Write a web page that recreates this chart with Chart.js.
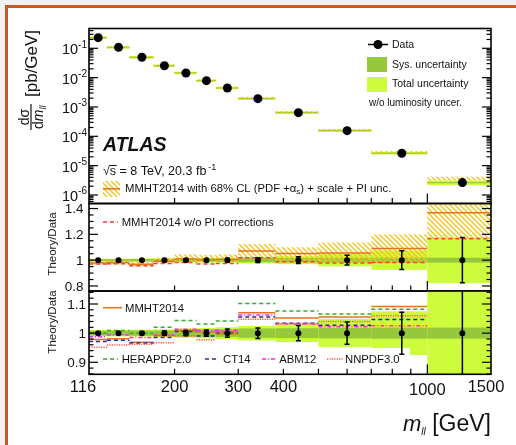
<!DOCTYPE html>
<html>
<head>
<meta charset="utf-8">
<script src="https://cdn.jsdelivr.net/npm/chart.js@4.4.1/dist/chart.umd.min.js"></script>
<style>
  html, body { margin: 0; padding: 0; width: 516px; height: 445px; overflow: hidden; background: #f2f2f2; }
  #frame { position: absolute; left: 5px; top: 5px; width: 560px; height: 500px; border: 3px solid #c65a28; background: #fff; }
  canvas { position: absolute; left: 0; top: 0; }
</style>
</head>
<body>
<div id="frame"></div>
<canvas id="topPanel" width="516" height="445"></canvas>
<canvas id="midPanel" width="516" height="445"></canvas>
<canvas id="botPanel" width="516" height="445"></canvas>
<script>
const FONT = "'Liberation Sans', Arial, Helvetica, sans-serif";

// mass bins [GeV]
const BIN_EDGES = [116, 130, 150, 175, 200, 230, 260, 300, 380, 500, 700, 1000, 1500];
const BIN_CENTERS = [123, 140, 162.5, 187.5, 215, 245, 280, 340, 440, 600, 850, 1250];

// measured dsigma/dm [pb/GeV] and relative uncertainties
const DSIGMA = [0.23, 0.108, 0.0493, 0.0255, 0.0144, 0.00787, 0.00444, 0.00192, 0.00064, 0.000156, 0.0000265, 0.00000264];
const STAT_UNC = [0.003, 0.004, 0.005, 0.007, 0.009, 0.011, 0.014, 0.018, 0.026, 0.038, 0.072, 0.175];
const SYS_UNC = [0.008, 0.008, 0.009, 0.009, 0.011, 0.012, 0.013, 0.016, 0.017, 0.018, 0.019, 0.019];
const TOTAL_UNC = [0.011, 0.011, 0.012, 0.013, 0.016, 0.018, 0.02, 0.025, 0.031, 0.048, 0.075, 0.178];
const DATA_RATIO = [1, 1, 1, 1, 1, 1, 1, 1, 1, 1, 1, 1];

// theory / data
const MMHT = [0.978, 0.981, 0.969, 0.991, 1.009, 1.004, 1.005, 1.07, 1.052, 1.055, 1.091, 1.368];
const MMHT_LO = [0.965, 0.966, 0.95, 0.975, 0.985, 0.98, 0.985, 1.015, 0.99, 0.985, 0.982, 1.165];
const MMHT_HI = [0.998, 0.998, 0.99, 1.02, 1.046, 1.04, 1.045, 1.124, 1.1, 1.137, 1.2, 1.6];
const MMHT_NO_PI = [0.97, 0.972, 0.956, 0.975, 0.982, 0.97, 0.975, 1.018, 0.988, 0.977, 0.982, 1.165];
const HERAPDF = [1.0, 1.009, 1.0, 1.02, 1.043, 1.031, 1.042, 1.102, 1.076, 1.066, 1.082, 1.42];
const CT14 = [0.971, 0.976, 0.966, 0.985, 1.006, 0.99, 1.0, 1.055, 1.034, 1.027, 1.047, 1.35];
const ABM12 = [0.988, 0.994, 0.985, 0.994, 1.013, 1.01, 1.01, 1.062, 1.031, 1.022, 1.025, 1.3];
const NNPDF = [0.952, 0.959, 0.962, 0.967, 0.99, 0.977, 0.998, 1.048, 1.033, 1.04, 1.06, 1.35];

const X_TICKS = [200, 300, 400, 500, 600, 700, 800, 900, 1000];
const X_LABELS = [116, 200, 300, 400, 1000, 1500];
const TOP_EXPONENTS = [-1, -2, -3, -4, -5, -6];
const MID_TICKS = [0.8, 1, 1.2, 1.4];
const BOT_TICKS = [0.9, 1, 1.1];

const LIME = '#cdfc3c', GREEN = '#96c83c', ORANGE = '#e2761c';
const RED = '#ff3b3b', HERA_GREEN = '#33aa33', CT_BLUE = '#2b2baa', ABM_PINK = '#ff22ff', NNPDF_RED = '#ff5050';

function makeHatch() {
    const c = document.createElement('canvas');
    c.width = c.height = 5;
    const g = c.getContext('2d');
    g.strokeStyle = '#f8c21c';
    g.lineWidth = 1.4;
    g.beginPath();
    g.moveTo(-1, -1); g.lineTo(6, 6);
    g.moveTo(-1, 4); g.lineTo(1, 6);
    g.moveTo(4, -1); g.lineTo(6, 1);
    g.stroke();
    return g.createPattern(c, 'repeat');
}
const HATCH = makeHatch();

function steps(vals) {
    const pts = [];
    vals.forEach((v, i) => {
        pts.push({x: BIN_EDGES[i], y: v}, {x: BIN_EDGES[i + 1], y: v}, {x: BIN_EDGES[i + 1], y: null});
    });
    return pts;
}

function stepLine(vals, color, dash) {
    return {data: steps(vals), borderColor: color, borderWidth: 1.5, borderDash: dash, pointRadius: 0,
            fill: false, tension: 0, spanGaps: false, order: 1};
}

function dataPoints(ys, r) {
    return {data: BIN_CENTERS.map((x, i) => ({x, y: ys[i]})), showLine: false, pointRadius: r,
            pointBackgroundColor: '#000', pointBorderColor: '#000', pointBorderWidth: 0, order: 0};
}

function binBox(chart, i, lo, hi, fill, minH) {
    const {x, y} = chart.scales;
    const x0 = x.getPixelForValue(BIN_EDGES[i]);
    const x1 = x.getPixelForValue(BIN_EDGES[i + 1]);
    let y0 = y.getPixelForValue(hi), y1 = y.getPixelForValue(lo);
    if (minH && y1 - y0 < minH) {
        const c = (y0 + y1) / 2;
        y0 = c - minH / 2; y1 = c + minH / 2;
    }
    chart.ctx.fillStyle = fill;
    chart.ctx.fillRect(x0, y0, x1 - x0, y1 - y0);
}

function clipArea(chart, fn) {
    const ctx = chart.ctx, a = chart.chartArea;
    ctx.save();
    ctx.beginPath();
    ctx.rect(a.left, a.top, a.right - a.left, a.bottom - a.top);
    ctx.clip();
    fn(ctx);
    ctx.restore();
}

function line(ctx, x0, y0, x1, y1, color, w, dash) {
    ctx.save();
    ctx.strokeStyle = color;
    ctx.lineWidth = w;
    ctx.setLineDash(dash || []);
    ctx.beginPath();
    ctx.moveTo(x0, y0); ctx.lineTo(x1, y1);
    ctx.stroke();
    ctx.restore();
}

function text(ctx, s, x, y, size, opts = {}) {
    ctx.font = ((opts.style || '') + ' ' + size + 'px ' + FONT).trim();
    ctx.textAlign = opts.align || 'left';
    ctx.textBaseline = opts.base || 'alphabetic';
    ctx.fillStyle = opts.color || '#111';
    ctx.fillText(s, x, y);
    return ctx.measureText(s).width;
}

function frame(chart) {
    const ctx = chart.ctx, a = chart.chartArea;
    ctx.save();
    ctx.strokeStyle = '#000';
    ctx.lineWidth = 1.6;
    ctx.strokeRect(a.left, a.top, a.right - a.left, a.bottom - a.top);
    ctx.restore();
}

function xTicks(chart) {
    const ctx = chart.ctx, x = chart.scales.x, a = chart.chartArea;
    X_TICKS.forEach(v => {
        const px = x.getPixelForValue(v);
        line(ctx, px, a.bottom, px, a.bottom - (v === 1000 ? 10 : 5.5), '#000', 1.2);
    });
}

function yLinTicks(chart, major, step) {
    const ctx = chart.ctx, y = chart.scales.y, a = chart.chartArea;
    for (let v = Math.ceil(y.min / step) * step; v <= y.max; v += step) {
        const py = y.getPixelForValue(v);
        const isMajor = major.some(m => Math.abs(m - v) < 1e-6);
        const len = isMajor ? 9 : 4.5;
        line(ctx, a.left, py, a.left + len, py, '#000', 1.2);
        line(ctx, a.right, py, a.right - len, py, '#000', 1.2);
    }
}

function theoryData(ctx, cy) {
    ctx.save();
    ctx.translate(56, cy);
    ctx.rotate(-Math.PI / 2);
    text(ctx, 'Theory/Data', 0, 0, 11.5, {align: 'center', color: '#222'});
    ctx.restore();
}

function errorBars(chart) {
    const ctx = chart.ctx, {x, y} = chart.scales;
    clipArea(chart, () => {
        BIN_CENTERS.forEach((c, i) => {
            const px = x.getPixelForValue(c);
            const y0 = y.getPixelForValue(DATA_RATIO[i] + STAT_UNC[i]);
            const y1 = y.getPixelForValue(DATA_RATIO[i] - STAT_UNC[i]);
            line(ctx, px, y0, px, y1, '#000', 1.5);
            line(ctx, px - 2.5, y0, px + 2.5, y0, '#000', 1.5);
            line(ctx, px - 2.5, y1, px + 2.5, y1, '#000', 1.5);
        });
    });
}

const topPlugin = {
    id: 'topPanel',
    beforeDatasetsDraw(chart) {
        clipArea(chart, () => {
            DSIGMA.forEach((d, i) => {
                binBox(chart, i, d * (1 - TOTAL_UNC[i]), d * (1 + TOTAL_UNC[i]), LIME, 2.5);
                binBox(chart, i, d * (1 - SYS_UNC[i]), d * (1 + SYS_UNC[i]), GREEN, 1.2);
                binBox(chart, i, d * MMHT_LO[i], d * MMHT_HI[i], HATCH, 2);
            });
        });
    },
    afterDraw(chart) {
        const ctx = chart.ctx, y = chart.scales.y, a = chart.chartArea;
        frame(chart);
        xTicks(chart);
        // log ticks
        for (let e = -7; e <= 0; e++) {
            for (let m = 1; m <= 9; m++) {
                const v = m * Math.pow(10, e);
                if (v < y.min || v > y.max) continue;
                const py = y.getPixelForValue(v);
                const len = m === 1 ? 9 : 4.5;
                line(ctx, a.left, py, a.left + len, py, '#000', 1.2);
                line(ctx, a.right, py, a.right - len, py, '#000', 1.2);
            }
        }
        TOP_EXPONENTS.forEach(e => {
            const py = y.getPixelForValue(Math.pow(10, e));
            ctx.font = '10px ' + FONT;
            const ew = ctx.measureText(String(e)).width;
            text(ctx, '10', 87 - ew, py + 6, 14.5, {align: 'right'});
            text(ctx, String(e), 87 - ew, py - 0.5, 10);
        });
        // y title
        ctx.save();
        ctx.translate(31, 117);
        ctx.rotate(-Math.PI / 2);
        text(ctx, 'dσ', 0, -2.5, 14, {align: 'center'});
        line(ctx, -13, 0, 13, 0, '#111', 1.2);
        let w = text(ctx, 'd', -12, 12, 14);
        w += text(ctx, 'm', -12 + w, 12, 14, {style: 'italic'});
        text(ctx, 'll', -12 + w, 15, 9.5, {style: 'italic'});
        text(ctx, '[pb/GeV]', 20, 6, 17);
        ctx.restore();
        // labels
        text(ctx, 'ATLAS', 103, 150.7, 19.5, {style: 'italic bold'});
        const w1 = text(ctx, '√', 103, 175, 12.5);
        const w2 = ctx.measureText('s').width;
        line(ctx, 103 + w1 - 0.5, 165.5, 103 + w1 + w2 + 0.5, 165.5, '#111', 1);
        const ws = text(ctx, 's = 8 TeV, 20.3 fb', 103 + w1, 175, 12.5);
        text(ctx, '-1', 103 + w1 + ws + 2, 169.5, 9);
        ctx.fillStyle = HATCH;
        ctx.fillRect(103, 181, 17, 16);
        line(ctx, 103, 188.8, 120, 188.8, ORANGE, 1.5);
        let tx = 125;
        tx += text(ctx, 'MMHT2014 with 68% CL (PDF +α', tx, 191.7, 11.3);
        tx += text(ctx, 's', tx, 194, 8);
        text(ctx, ') + scale + PI unc.', tx, 191.7, 11.3);
        // legend
        line(ctx, 368, 44.5, 388, 44.5, '#000', 1.5);
        ctx.fillStyle = '#000';
        ctx.beginPath(); ctx.arc(378, 44.5, 4.5, 0, 2 * Math.PI); ctx.fill();
        text(ctx, 'Data', 392, 48.3, 10.5);
        ctx.fillStyle = GREEN; ctx.fillRect(367, 57, 20, 15);
        text(ctx, 'Sys. uncertainty', 392, 68.3, 10.5);
        ctx.fillStyle = LIME; ctx.fillRect(367, 77, 20, 15);
        text(ctx, 'Total uncertainty', 392, 87.3, 10.5);
        text(ctx, 'w/o luminosity uncer.', 369, 106, 10);
    }
};

const midPlugin = {
    id: 'midPanel',
    beforeDatasetsDraw(chart) {
        clipArea(chart, () => {
            DATA_RATIO.forEach((r, i) => {
                binBox(chart, i, r - TOTAL_UNC[i], r + TOTAL_UNC[i], LIME);
                binBox(chart, i, r - SYS_UNC[i], r + SYS_UNC[i], GREEN);
                binBox(chart, i, MMHT_LO[i], MMHT_HI[i], HATCH);
            });
        });
    },
    afterDatasetsDraw(chart) { errorBars(chart); },
    afterDraw(chart) {
        const ctx = chart.ctx, y = chart.scales.y;
        frame(chart);
        xTicks(chart);
        yLinTicks(chart, MID_TICKS, 0.05);
        MID_TICKS.forEach(v => text(ctx, String(v), 83.5, y.getPixelForValue(v) + 1, 13.5, {align: 'right', base: 'middle'}));
        line(ctx, 103, 222, 118, 222, RED, 1.6, [4, 3]);
        text(ctx, 'MMHT2014 w/o PI corrections', 121.7, 225.7, 11.3);
        theoryData(ctx, 244);
    }
};

const botPlugin = {
    id: 'botPanel',
    beforeDatasetsDraw(chart) {
        clipArea(chart, ctx => {
            DATA_RATIO.forEach((r, i) => {
                binBox(chart, i, r - TOTAL_UNC[i], r + TOTAL_UNC[i], LIME);
                binBox(chart, i, r - SYS_UNC[i], r + SYS_UNC[i], GREEN);
            });
            ctx.fillStyle = '#fff';
            ctx.fillRect(97, 348, 313, 26);
        });
    },
    afterDatasetsDraw(chart) { errorBars(chart); },
    afterDraw(chart) {
        const ctx = chart.ctx, x = chart.scales.x, y = chart.scales.y;
        frame(chart);
        xTicks(chart);
        yLinTicks(chart, BOT_TICKS, 0.02);
        BOT_TICKS.forEach(v => text(ctx, String(v), 86, y.getPixelForValue(v) + 1, 13.5, {align: 'right', base: 'middle'}));
        X_LABELS.forEach((v, i) => {
            let px = x.getPixelForValue(v), py = 391.7;
            if (i === 0) px -= 6;
            if (i === X_LABELS.length - 1) px -= 5;
            if (v === 1000) py = 395;
            text(ctx, String(v), px, py, 16.5, {align: 'center'});
        });
        // x title, right aligned at the frame edge
        ctx.font = '23px ' + FONT;
        const wg = ctx.measureText(' [GeV]').width;
        ctx.font = 'italic 10px ' + FONT;
        const wl = ctx.measureText('ll').width;
        ctx.font = 'italic 22px ' + FONT;
        const wm = ctx.measureText('m').width;
        let tx = 491 - wg - wl - wm;
        text(ctx, 'm', tx, 431, 22, {style: 'italic'});
        text(ctx, 'll', tx + wm, 435, 10, {style: 'italic'});
        text(ctx, ' [GeV]', tx + wm + wl, 431, 23);
        // legends
        line(ctx, 103, 307.7, 122, 307.7, ORANGE, 1.6);
        text(ctx, 'MMHT2014', 125, 311.7, 11.3);
        line(ctx, 103, 359, 118, 359, HERA_GREEN, 1.6, [4, 3]);
        text(ctx, 'HERAPDF2.0', 121.7, 362.7, 11.3);
        line(ctx, 205, 359, 219, 359, CT_BLUE, 1.6, [4, 3]);
        text(ctx, 'CT14', 223, 362.7, 11.3);
        line(ctx, 262, 359, 276, 359, ABM_PINK, 1.6, [4, 2, 1, 2]);
        text(ctx, 'ABM12', 279.3, 362.7, 11.3);
        line(ctx, 327, 359, 343, 359, NNPDF_RED, 1.6, [1.2, 1.2]);
        text(ctx, 'NNPDF3.0', 345, 362.7, 11.3);
        theoryData(ctx, 322);
    }
};

function makeChart(id, datasets, yScale, padding, plugin) {
    return new Chart(document.getElementById(id), {
        type: 'line',
        data: {datasets},
        options: {
            responsive: false,
            devicePixelRatio: 1,
            animation: false,
            events: [],
            layout: {padding},
            plugins: {legend: {display: false}, tooltip: {enabled: false}},
            scales: {
                x: {type: 'logarithmic', min: 116, max: 1500, display: false},
                y: Object.assign({display: false}, yScale)
            }
        },
        plugins: [plugin]
    });
}

makeChart('topPanel',
    [dataPoints(DSIGMA, 4.5)],
    {type: 'logarithmic', min: 5.13e-7, max: 0.4727},
    {left: 89, right: 25, top: 28.5, bottom: 445 - 203.5},
    topPlugin);

makeChart('midPanel',
    [stepLine(MMHT, ORANGE, []), stepLine(MMHT_NO_PI, RED, [4, 3]), dataPoints(DATA_RATIO, 3)],
    {type: 'linear', min: 0.761, max: 1.439},
    {left: 89, right: 25, top: 203.5, bottom: 445 - 291},
    midPlugin);

makeChart('botPanel',
    [stepLine(HERAPDF, HERA_GREEN, [4, 3]), stepLine(NNPDF, NNPDF_RED, [1.2, 1.2]),
     stepLine(ABM12, ABM_PINK, [4, 2, 1, 2]), stepLine(CT14, CT_BLUE, [4, 3]),
     stepLine(MMHT, ORANGE, []), dataPoints(DATA_RATIO, 3)],
    {type: 'linear', min: 0.8588, max: 1.1446},
    {left: 89, right: 25, top: 291, bottom: 445 - 374.3},
    botPlugin);
</script>
</body>
</html>
